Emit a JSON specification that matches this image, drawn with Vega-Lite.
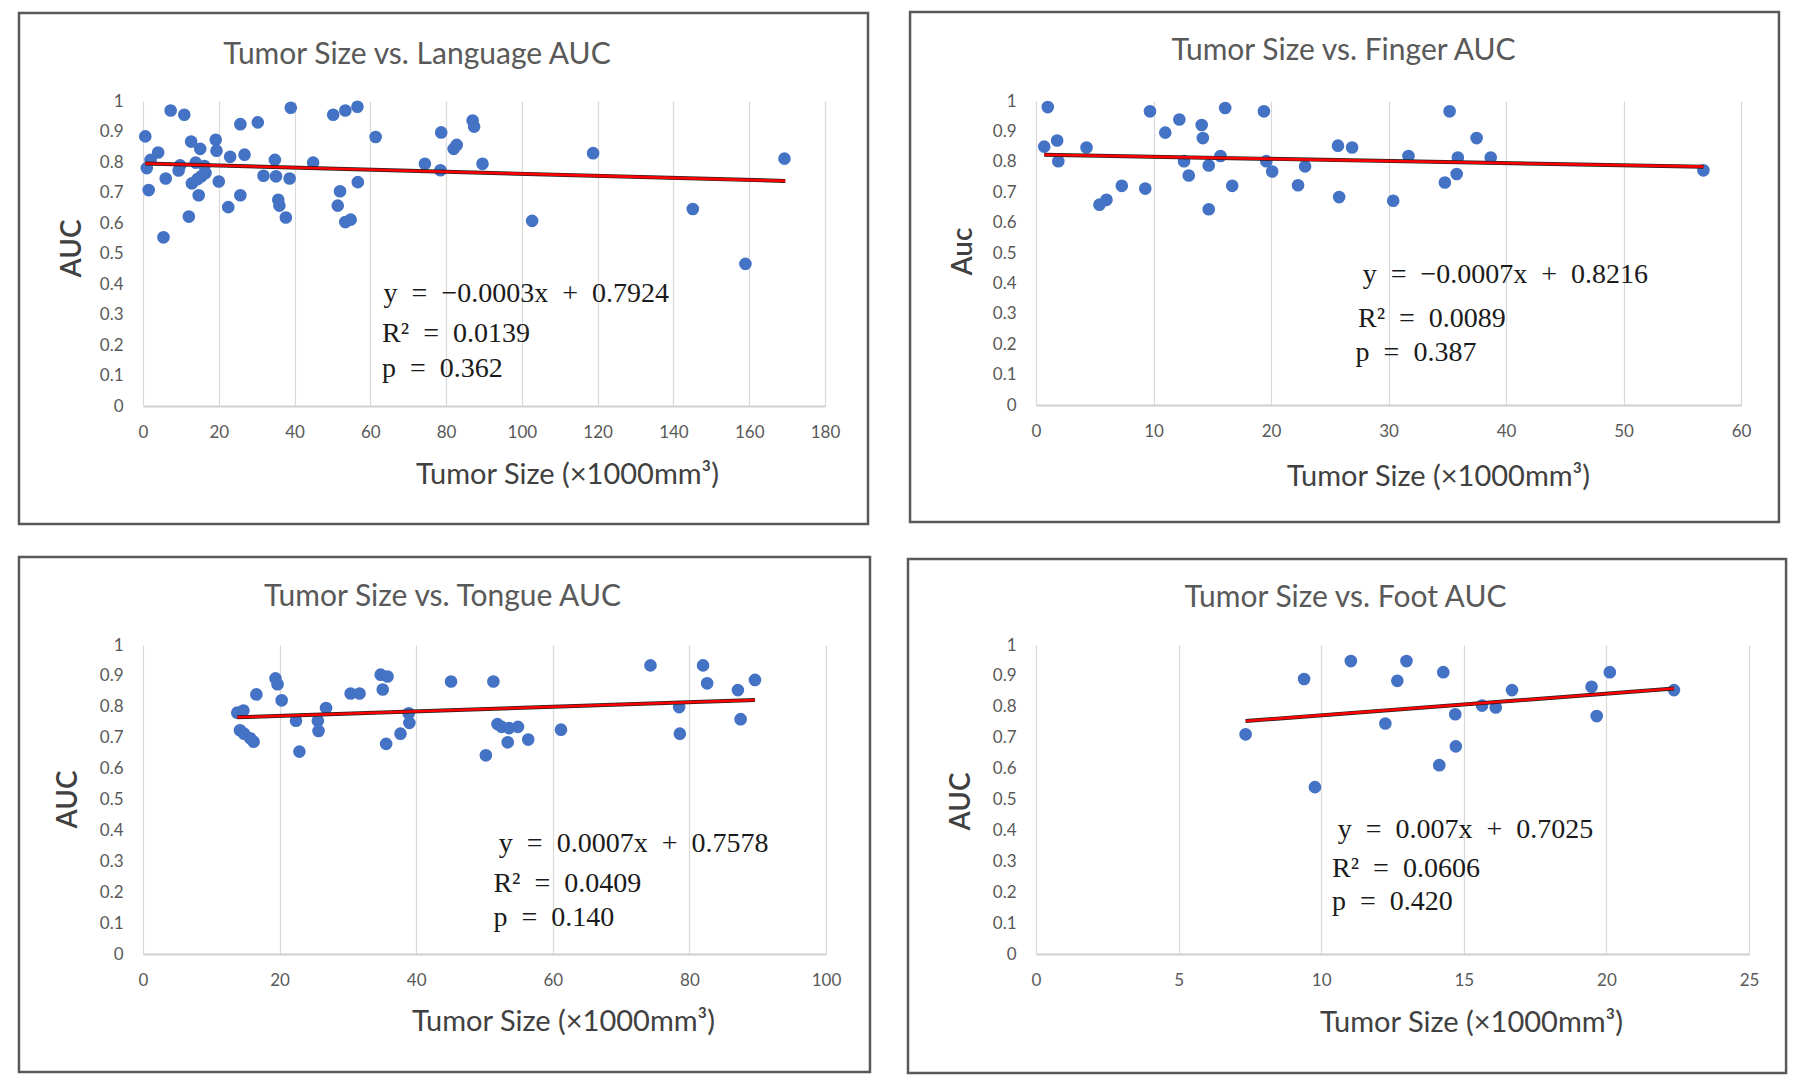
{
  "$schema": "https://vega.github.io/schema/vega-lite/v6.json",
  "background": "white",
  "padding": {"left": 17, "top": 10, "right": 5, "bottom": 0},
  "columns": 2,
  "bounds": "flush",
  "spacing": {"row": 239, "column": 210},
  "config": {
    "view": {"stroke": null},
    "font": "Lato",
    "axis": {"labelFont": "Lato", "labelFontSize": 17, "labelColor": "#595959", "ticks": false, "titleFont": "Lato", "titleColor": "#404040", "labelFlush": false, "labelOverlap": false},
    "axisX": {"grid": true, "gridColor": "#d9d9d9", "gridWidth": 1.2, "domainColor": "#cfcfcf", "domainWidth": 2, "labelPadding": 18, "titleFontSize": 29, "titleFontWeight": "normal", "titleAlign": "center", "titleBaseline": "middle"},
    "axisY": {"grid": false, "domain": false, "labelPadding": 20, "titleFontSize": 28, "titleFontWeight": 600, "titleAlign": "center", "titleBaseline": "middle"},
    "title": {"font": "Lato", "fontSize": 30, "fontWeight": "normal", "color": "#595959", "anchor": "middle", "frame": "group"}
  },
  "datasets": {
    "language": [
      {"x":0.6,"y":0.884},{"x":1,"y":0.78},{"x":1.5,"y":0.708},{"x":2,"y":0.807},{"x":4,"y":0.831},{"x":5.4,"y":0.553},{"x":6,"y":0.746},{"x":7.3,"y":0.969},{"x":9.4,"y":0.772},{"x":9.8,"y":0.789},{"x":10.9,"y":0.955},{"x":12.1,"y":0.621},{"x":12.7,"y":0.867},{"x":12.9,"y":0.73},{"x":13.9,"y":0.798},{"x":14.4,"y":0.744},{"x":14.7,"y":0.691},{"x":15.1,"y":0.843},{"x":15.4,"y":0.753},{"x":16.2,"y":0.787},{"x":16.5,"y":0.764},{"x":19.2,"y":0.873},{"x":19.4,"y":0.837},{"x":20,"y":0.736},{"x":22.5,"y":0.652},{"x":23,"y":0.817},{"x":25.7,"y":0.924},{"x":25.7,"y":0.691},{"x":26.8,"y":0.824},{"x":30.3,"y":0.93},{"x":31.8,"y":0.755},{"x":34.8,"y":0.807},{"x":35.1,"y":0.753},{"x":35.7,"y":0.676},{"x":36,"y":0.657},{"x":37.7,"y":0.618},{"x":38.7,"y":0.746},{"x":39,"y":0.978},{"x":44.9,"y":0.798},{"x":50.2,"y":0.955},{"x":51.4,"y":0.657},{"x":52,"y":0.704},{"x":53.4,"y":0.969},{"x":53.4,"y":0.603},{"x":54.8,"y":0.611},{"x":56.6,"y":0.981},{"x":56.7,"y":0.734},{"x":61.4,"y":0.882},{"x":74.4,"y":0.794},{"x":78.5,"y":0.773},{"x":78.7,"y":0.897},{"x":82,"y":0.843},{"x":82.8,"y":0.856},{"x":87,"y":0.936},{"x":87.4,"y":0.916},{"x":89.6,"y":0.794},{"x":102.7,"y":0.607},{"x":118.8,"y":0.829},{"x":145.1,"y":0.646},{"x":159,"y":0.466},{"x":169.3,"y":0.811}
    ],
    "language_fit": [{"x":0.6,"y":0.795},{"x":169.5,"y":0.738}],
    "finger": [
      {"x":0.7,"y":0.85},{"x":1.0,"y":0.98},{"x":1.8,"y":0.87},{"x":1.9,"y":0.802},{"x":4.3,"y":0.847},{"x":5.4,"y":0.659},{"x":6.0,"y":0.675},{"x":7.3,"y":0.721},{"x":9.3,"y":0.712},{"x":9.7,"y":0.966},{"x":11.0,"y":0.896},{"x":12.2,"y":0.939},{"x":12.6,"y":0.802},{"x":13.0,"y":0.755},{"x":14.1,"y":0.921},{"x":14.2,"y":0.878},{"x":14.7,"y":0.788},{"x":14.7,"y":0.644},{"x":15.7,"y":0.819},{"x":16.1,"y":0.977},{"x":16.7,"y":0.721},{"x":19.4,"y":0.966},{"x":19.6,"y":0.802},{"x":20.1,"y":0.768},{"x":22.3,"y":0.723},{"x":22.9,"y":0.785},{"x":25.7,"y":0.853},{"x":25.8,"y":0.684},{"x":26.9,"y":0.847},{"x":30.4,"y":0.672},{"x":31.7,"y":0.819},{"x":34.8,"y":0.732},{"x":35.2,"y":0.966},{"x":35.8,"y":0.76},{"x":35.9,"y":0.814},{"x":37.5,"y":0.878},{"x":38.7,"y":0.814},{"x":56.8,"y":0.772}
    ],
    "finger_fit": [{"x":0.7,"y":0.823},{"x":56.8,"y":0.784}],
    "tongue": [
      {"x":13.8,"y":0.781},{"x":14.2,"y":0.724},{"x":14.7,"y":0.788},{"x":14.8,"y":0.713},{"x":15.7,"y":0.698},{"x":16.2,"y":0.687},{"x":16.6,"y":0.84},{"x":19.4,"y":0.892},{"x":19.7,"y":0.873},{"x":20.3,"y":0.821},{"x":22.4,"y":0.755},{"x":22.9,"y":0.655},{"x":25.6,"y":0.755},{"x":25.7,"y":0.722},{"x":26.8,"y":0.796},{"x":30.4,"y":0.843},{"x":31.7,"y":0.843},{"x":34.8,"y":0.904},{"x":35.1,"y":0.856},{"x":35.8,"y":0.898},{"x":35.6,"y":0.68},{"x":37.7,"y":0.713},{"x":38.9,"y":0.779},{"x":39.0,"y":0.748},{"x":45.1,"y":0.882},{"x":50.2,"y":0.643},{"x":51.3,"y":0.882},{"x":51.9,"y":0.744},{"x":52.5,"y":0.735},{"x":53.4,"y":0.685},{"x":53.6,"y":0.731},{"x":54.9,"y":0.735},{"x":56.4,"y":0.694},{"x":61.2,"y":0.726},{"x":74.3,"y":0.934},{"x":78.5,"y":0.799},{"x":78.6,"y":0.713},{"x":82.0,"y":0.934},{"x":82.6,"y":0.876},{"x":87.1,"y":0.854},{"x":87.5,"y":0.76},{"x":89.6,"y":0.887}
    ],
    "tongue_fit": [{"x":13.8,"y":0.766},{"x":89.6,"y":0.822}],
    "foot": [
      {"x":7.35,"y":0.711},{"x":9.4,"y":0.89},{"x":9.78,"y":0.54},{"x":11.04,"y":0.948},{"x":12.25,"y":0.746},{"x":12.67,"y":0.884},{"x":12.99,"y":0.948},{"x":14.14,"y":0.611},{"x":14.28,"y":0.912},{"x":14.7,"y":0.776},{"x":14.72,"y":0.672},{"x":15.64,"y":0.804},{"x":16.12,"y":0.798},{"x":16.69,"y":0.854},{"x":19.48,"y":0.865},{"x":19.66,"y":0.77},{"x":20.12,"y":0.912},{"x":22.37,"y":0.854}
    ],
    "foot_fit": [{"x":7.35,"y":0.754},{"x":22.37,"y":0.859}]
  },
  "concat": [
    {
      "width": 682, "height": 305,
      "title": {"text": "Tumor Size vs. Language AUC", "dx": -67, "offset": -58},
      "layer": [
        {"data": {"values": [{}]}, "mark": {"type": "rect", "filled": false, "color": "#595959", "strokeWidth": 2.5},
         "encoding": {"x": {"datum": -32.73, "type": "quantitative", "scale": {"domain": [0,180], "nice": false}, "axis": {"values": [0,20,40,60,80,100,120,140,160,180], "title": "Tumor Size (×1000mm³)", "titleX": 424, "titleY": 68}}, "x2": {"datum": 191.35},
                      "y": {"datum": 1.2885, "type": "quantitative", "scale": {"domain": [0,1], "nice": false}, "axis": {"values": [0,0.1,0.2,0.3,0.4,0.5,0.6,0.7,0.8,0.9,1], "format": "~g", "title": "AUC", "titleX": -71, "titleY": 147}}, "y2": {"datum": -0.3869}}},
        {"data": {"name": "language"}, "mark": {"type": "circle", "size": 160, "color": "#4472C4", "opacity": 1},
         "encoding": {"x": {"field": "x", "type": "quantitative", "scale": {"domain": [0,180], "nice": false}, "axis": {"values": [0,20,40,60,80,100,120,140,160,180], "title": "Tumor Size (×1000mm³)", "titleX": 424, "titleY": 68}},
                      "y": {"field": "y", "type": "quantitative", "scale": {"domain": [0,1], "nice": false}, "axis": {"values": [0,0.1,0.2,0.3,0.4,0.5,0.6,0.7,0.8,0.9,1], "format": "~g", "title": "AUC", "titleX": -71, "titleY": 147}}}},
        {"data": {"name": "language_fit"}, "mark": {"type": "line", "color": "#222222", "strokeWidth": 4},
         "encoding": {"x": {"field": "x", "type": "quantitative", "scale": {"domain": [0,180], "nice": false}, "axis": {"values": [0,20,40,60,80,100,120,140,160,180], "title": "Tumor Size (×1000mm³)", "titleX": 424, "titleY": 68}}, "y": {"field": "y", "type": "quantitative", "scale": {"domain": [0,1], "nice": false}, "axis": {"values": [0,0.1,0.2,0.3,0.4,0.5,0.6,0.7,0.8,0.9,1], "format": "~g", "title": "AUC", "titleX": -71, "titleY": 147}}}},
        {"data": {"name": "language_fit"}, "mark": {"type": "line", "color": "#ff0000", "strokeWidth": 2.6},
         "encoding": {"x": {"field": "x", "type": "quantitative", "scale": {"domain": [0,180], "nice": false}, "axis": {"values": [0,20,40,60,80,100,120,140,160,180], "title": "Tumor Size (×1000mm³)", "titleX": 424, "titleY": 68}}, "y": {"field": "y", "type": "quantitative", "scale": {"domain": [0,1], "nice": false}, "axis": {"values": [0,0.1,0.2,0.3,0.4,0.5,0.6,0.7,0.8,0.9,1], "format": "~g", "title": "AUC", "titleX": -71, "titleY": 147}}}},
        {"data": {"values": [{}]}, "mark": {"type": "text", "text": "y\u2002=\u2002−0.0003x\u2002+\u20020.7924", "align": "left", "baseline": "middle", "font": "Liberation Serif", "fontSize": 28, "color": "#1a1a1a"},
         "encoding": {"x": {"datum": 63.5, "type": "quantitative", "scale": {"domain": [0,180], "nice": false}, "axis": {"values": [0,20,40,60,80,100,120,140,160,180], "title": "Tumor Size (×1000mm³)", "titleX": 424, "titleY": 68}}, "y": {"datum": 0.367, "type": "quantitative", "scale": {"domain": [0,1], "nice": false}, "axis": {"values": [0,0.1,0.2,0.3,0.4,0.5,0.6,0.7,0.8,0.9,1], "format": "~g", "title": "AUC", "titleX": -71, "titleY": 147}}}},
        {"data": {"values": [{}]}, "mark": {"type": "text", "text": "R²\u2002=\u20020.0139", "align": "left", "baseline": "middle", "font": "Liberation Serif", "fontSize": 28, "color": "#1a1a1a"},
         "encoding": {"x": {"datum": 63.1, "type": "quantitative", "scale": {"domain": [0,180], "nice": false}, "axis": {"values": [0,20,40,60,80,100,120,140,160,180], "title": "Tumor Size (×1000mm³)", "titleX": 424, "titleY": 68}}, "y": {"datum": 0.236, "type": "quantitative", "scale": {"domain": [0,1], "nice": false}, "axis": {"values": [0,0.1,0.2,0.3,0.4,0.5,0.6,0.7,0.8,0.9,1], "format": "~g", "title": "AUC", "titleX": -71, "titleY": 147}}}},
        {"data": {"values": [{}]}, "mark": {"type": "text", "text": "p\u2002=\u20020.362", "align": "left", "baseline": "middle", "font": "Liberation Serif", "fontSize": 28, "color": "#1a1a1a"},
         "encoding": {"x": {"datum": 63.1, "type": "quantitative", "scale": {"domain": [0,180], "nice": false}, "axis": {"values": [0,20,40,60,80,100,120,140,160,180], "title": "Tumor Size (×1000mm³)", "titleX": 424, "titleY": 68}}, "y": {"datum": 0.12, "type": "quantitative", "scale": {"domain": [0,1], "nice": false}, "axis": {"values": [0,0.1,0.2,0.3,0.4,0.5,0.6,0.7,0.8,0.9,1], "format": "~g", "title": "AUC", "titleX": -71, "titleY": 147}}}}
      ]
    },
    {
      "width": 705, "height": 304,
      "title": {"text": "Tumor Size vs. Finger AUC", "dx": -45, "offset": -55},
      "layer": [
        {"data": {"values": [{}]}, "mark": {"type": "rect", "filled": false, "color": "#595959", "strokeWidth": 2.5},
         "encoding": {"x": {"datum": -10.72, "type": "quantitative", "scale": {"domain": [0,60], "nice": false}, "axis": {"values": [0,10,20,30,40,50,60], "title": "Tumor Size (×1000mm³)", "titleX": 402, "titleY": 71}}, "x2": {"datum": 63.23},
                      "y": {"datum": 1.2928, "type": "quantitative", "scale": {"domain": [0,1], "nice": false}, "axis": {"values": [0,0.1,0.2,0.3,0.4,0.5,0.6,0.7,0.8,0.9,1], "format": "~g", "title": "Auc", "titleX": -73, "titleY": 150}}, "y2": {"datum": -0.3849}}},
        {"data": {"name": "finger"}, "mark": {"type": "circle", "size": 160, "color": "#4472C4", "opacity": 1},
         "encoding": {"x": {"field": "x", "type": "quantitative", "scale": {"domain": [0,60], "nice": false}, "axis": {"values": [0,10,20,30,40,50,60], "title": "Tumor Size (×1000mm³)", "titleX": 402, "titleY": 71}},
                      "y": {"field": "y", "type": "quantitative", "scale": {"domain": [0,1], "nice": false}, "axis": {"values": [0,0.1,0.2,0.3,0.4,0.5,0.6,0.7,0.8,0.9,1], "format": "~g", "title": "Auc", "titleX": -73, "titleY": 150}}}},
        {"data": {"name": "finger_fit"}, "mark": {"type": "line", "color": "#222222", "strokeWidth": 4},
         "encoding": {"x": {"field": "x", "type": "quantitative", "scale": {"domain": [0,60], "nice": false}, "axis": {"values": [0,10,20,30,40,50,60], "title": "Tumor Size (×1000mm³)", "titleX": 402, "titleY": 71}}, "y": {"field": "y", "type": "quantitative", "scale": {"domain": [0,1], "nice": false}, "axis": {"values": [0,0.1,0.2,0.3,0.4,0.5,0.6,0.7,0.8,0.9,1], "format": "~g", "title": "Auc", "titleX": -73, "titleY": 150}}}},
        {"data": {"name": "finger_fit"}, "mark": {"type": "line", "color": "#ff0000", "strokeWidth": 2.6},
         "encoding": {"x": {"field": "x", "type": "quantitative", "scale": {"domain": [0,60], "nice": false}, "axis": {"values": [0,10,20,30,40,50,60], "title": "Tumor Size (×1000mm³)", "titleX": 402, "titleY": 71}}, "y": {"field": "y", "type": "quantitative", "scale": {"domain": [0,1], "nice": false}, "axis": {"values": [0,0.1,0.2,0.3,0.4,0.5,0.6,0.7,0.8,0.9,1], "format": "~g", "title": "Auc", "titleX": -73, "titleY": 150}}}},
        {"data": {"values": [{}]}, "mark": {"type": "text", "text": "y\u2002=\u2002−0.0007x\u2002+\u20020.8216", "align": "left", "baseline": "middle", "font": "Liberation Serif", "fontSize": 28, "color": "#1a1a1a"},
         "encoding": {"x": {"datum": 27.8, "type": "quantitative", "scale": {"domain": [0,60], "nice": false}, "axis": {"values": [0,10,20,30,40,50,60], "title": "Tumor Size (×1000mm³)", "titleX": 402, "titleY": 71}}, "y": {"datum": 0.426, "type": "quantitative", "scale": {"domain": [0,1], "nice": false}, "axis": {"values": [0,0.1,0.2,0.3,0.4,0.5,0.6,0.7,0.8,0.9,1], "format": "~g", "title": "Auc", "titleX": -73, "titleY": 150}}}},
        {"data": {"values": [{}]}, "mark": {"type": "text", "text": "R²\u2002=\u20020.0089", "align": "left", "baseline": "middle", "font": "Liberation Serif", "fontSize": 28, "color": "#1a1a1a"},
         "encoding": {"x": {"datum": 27.4, "type": "quantitative", "scale": {"domain": [0,60], "nice": false}, "axis": {"values": [0,10,20,30,40,50,60], "title": "Tumor Size (×1000mm³)", "titleX": 402, "titleY": 71}}, "y": {"datum": 0.282, "type": "quantitative", "scale": {"domain": [0,1], "nice": false}, "axis": {"values": [0,0.1,0.2,0.3,0.4,0.5,0.6,0.7,0.8,0.9,1], "format": "~g", "title": "Auc", "titleX": -73, "titleY": 150}}}},
        {"data": {"values": [{}]}, "mark": {"type": "text", "text": "p\u2002=\u20020.387", "align": "left", "baseline": "middle", "font": "Liberation Serif", "fontSize": 28, "color": "#1a1a1a"},
         "encoding": {"x": {"datum": 27.2, "type": "quantitative", "scale": {"domain": [0,60], "nice": false}, "axis": {"values": [0,10,20,30,40,50,60], "title": "Tumor Size (×1000mm³)", "titleX": 402, "titleY": 71}}, "y": {"datum": 0.171, "type": "quantitative", "scale": {"domain": [0,1], "nice": false}, "axis": {"values": [0,0.1,0.2,0.3,0.4,0.5,0.6,0.7,0.8,0.9,1], "format": "~g", "title": "Auc", "titleX": -73, "titleY": 150}}}}
      ]
    },
    {
      "width": 683, "height": 309,
      "title": {"text": "Tumor Size vs. Tongue AUC", "dx": -42, "offset": -56},
      "layer": [
        {"data": {"values": [{}]}, "mark": {"type": "rect", "filled": false, "color": "#595959", "strokeWidth": 2.5},
         "encoding": {"x": {"datum": -18.16, "type": "quantitative", "scale": {"domain": [0,100], "nice": false}, "axis": {"values": [0,20,40,60,80,100], "title": "Tumor Size (×1000mm³)", "titleX": 420, "titleY": 67}}, "x2": {"datum": 106.44},
                      "y": {"datum": 1.2848, "type": "quantitative", "scale": {"domain": [0,1], "nice": false}, "axis": {"values": [0,0.1,0.2,0.3,0.4,0.5,0.6,0.7,0.8,0.9,1], "format": "~g", "title": "AUC", "titleX": -75, "titleY": 154}}, "y2": {"datum": -0.3819}}},
        {"data": {"name": "tongue"}, "mark": {"type": "circle", "size": 160, "color": "#4472C4", "opacity": 1},
         "encoding": {"x": {"field": "x", "type": "quantitative", "scale": {"domain": [0,100], "nice": false}, "axis": {"values": [0,20,40,60,80,100], "title": "Tumor Size (×1000mm³)", "titleX": 420, "titleY": 67}},
                      "y": {"field": "y", "type": "quantitative", "scale": {"domain": [0,1], "nice": false}, "axis": {"values": [0,0.1,0.2,0.3,0.4,0.5,0.6,0.7,0.8,0.9,1], "format": "~g", "title": "AUC", "titleX": -75, "titleY": 154}}}},
        {"data": {"name": "tongue_fit"}, "mark": {"type": "line", "color": "#222222", "strokeWidth": 4},
         "encoding": {"x": {"field": "x", "type": "quantitative", "scale": {"domain": [0,100], "nice": false}, "axis": {"values": [0,20,40,60,80,100], "title": "Tumor Size (×1000mm³)", "titleX": 420, "titleY": 67}}, "y": {"field": "y", "type": "quantitative", "scale": {"domain": [0,1], "nice": false}, "axis": {"values": [0,0.1,0.2,0.3,0.4,0.5,0.6,0.7,0.8,0.9,1], "format": "~g", "title": "AUC", "titleX": -75, "titleY": 154}}}},
        {"data": {"name": "tongue_fit"}, "mark": {"type": "line", "color": "#ff0000", "strokeWidth": 2.6},
         "encoding": {"x": {"field": "x", "type": "quantitative", "scale": {"domain": [0,100], "nice": false}, "axis": {"values": [0,20,40,60,80,100], "title": "Tumor Size (×1000mm³)", "titleX": 420, "titleY": 67}}, "y": {"field": "y", "type": "quantitative", "scale": {"domain": [0,1], "nice": false}, "axis": {"values": [0,0.1,0.2,0.3,0.4,0.5,0.6,0.7,0.8,0.9,1], "format": "~g", "title": "AUC", "titleX": -75, "titleY": 154}}}},
        {"data": {"values": [{}]}, "mark": {"type": "text", "text": "y\u2002=\u20020.0007x\u2002+\u20020.7578", "align": "left", "baseline": "middle", "font": "Liberation Serif", "fontSize": 28, "color": "#1a1a1a"},
         "encoding": {"x": {"datum": 52.1, "type": "quantitative", "scale": {"domain": [0,100], "nice": false}, "axis": {"values": [0,20,40,60,80,100], "title": "Tumor Size (×1000mm³)", "titleX": 420, "titleY": 67}}, "y": {"datum": 0.356, "type": "quantitative", "scale": {"domain": [0,1], "nice": false}, "axis": {"values": [0,0.1,0.2,0.3,0.4,0.5,0.6,0.7,0.8,0.9,1], "format": "~g", "title": "AUC", "titleX": -75, "titleY": 154}}}},
        {"data": {"values": [{}]}, "mark": {"type": "text", "text": "R²\u2002=\u20020.0409", "align": "left", "baseline": "middle", "font": "Liberation Serif", "fontSize": 28, "color": "#1a1a1a"},
         "encoding": {"x": {"datum": 51.3, "type": "quantitative", "scale": {"domain": [0,100], "nice": false}, "axis": {"values": [0,20,40,60,80,100], "title": "Tumor Size (×1000mm³)", "titleX": 420, "titleY": 67}}, "y": {"datum": 0.227, "type": "quantitative", "scale": {"domain": [0,1], "nice": false}, "axis": {"values": [0,0.1,0.2,0.3,0.4,0.5,0.6,0.7,0.8,0.9,1], "format": "~g", "title": "AUC", "titleX": -75, "titleY": 154}}}},
        {"data": {"values": [{}]}, "mark": {"type": "text", "text": "p\u2002=\u20020.140", "align": "left", "baseline": "middle", "font": "Liberation Serif", "fontSize": 28, "color": "#1a1a1a"},
         "encoding": {"x": {"datum": 51.3, "type": "quantitative", "scale": {"domain": [0,100], "nice": false}, "axis": {"values": [0,20,40,60,80,100], "title": "Tumor Size (×1000mm³)", "titleX": 420, "titleY": 67}}, "y": {"datum": 0.118, "type": "quantitative", "scale": {"domain": [0,1], "nice": false}, "axis": {"values": [0,0.1,0.2,0.3,0.4,0.5,0.6,0.7,0.8,0.9,1], "format": "~g", "title": "AUC", "titleX": -75, "titleY": 154}}}}
      ]
    },
    {
      "width": 713, "height": 309,
      "title": {"text": "Tumor Size vs. Foot AUC", "dx": -47, "offset": -55},
      "layer": [
        {"data": {"values": [{}]}, "mark": {"type": "rect", "filled": false, "color": "#595959", "strokeWidth": 2.5},
         "encoding": {"x": {"datum": -4.488, "type": "quantitative", "scale": {"domain": [0,25], "nice": false}, "axis": {"values": [0,5,10,15,20,25], "title": "Tumor Size (×1000mm³)", "titleX": 435, "titleY": 68}}, "x2": {"datum": 26.3},
                      "y": {"datum": 1.2783, "type": "quantitative", "scale": {"domain": [0,1], "nice": false}, "axis": {"values": [0,0.1,0.2,0.3,0.4,0.5,0.6,0.7,0.8,0.9,1], "format": "~g", "title": "AUC", "titleX": -75, "titleY": 156}}, "y2": {"datum": -0.3851}}},
        {"data": {"name": "foot"}, "mark": {"type": "circle", "size": 160, "color": "#4472C4", "opacity": 1},
         "encoding": {"x": {"field": "x", "type": "quantitative", "scale": {"domain": [0,25], "nice": false}, "axis": {"values": [0,5,10,15,20,25], "title": "Tumor Size (×1000mm³)", "titleX": 435, "titleY": 68}},
                      "y": {"field": "y", "type": "quantitative", "scale": {"domain": [0,1], "nice": false}, "axis": {"values": [0,0.1,0.2,0.3,0.4,0.5,0.6,0.7,0.8,0.9,1], "format": "~g", "title": "AUC", "titleX": -75, "titleY": 156}}}},
        {"data": {"name": "foot_fit"}, "mark": {"type": "line", "color": "#222222", "strokeWidth": 4},
         "encoding": {"x": {"field": "x", "type": "quantitative", "scale": {"domain": [0,25], "nice": false}, "axis": {"values": [0,5,10,15,20,25], "title": "Tumor Size (×1000mm³)", "titleX": 435, "titleY": 68}}, "y": {"field": "y", "type": "quantitative", "scale": {"domain": [0,1], "nice": false}, "axis": {"values": [0,0.1,0.2,0.3,0.4,0.5,0.6,0.7,0.8,0.9,1], "format": "~g", "title": "AUC", "titleX": -75, "titleY": 156}}}},
        {"data": {"name": "foot_fit"}, "mark": {"type": "line", "color": "#ff0000", "strokeWidth": 2.6},
         "encoding": {"x": {"field": "x", "type": "quantitative", "scale": {"domain": [0,25], "nice": false}, "axis": {"values": [0,5,10,15,20,25], "title": "Tumor Size (×1000mm³)", "titleX": 435, "titleY": 68}}, "y": {"field": "y", "type": "quantitative", "scale": {"domain": [0,1], "nice": false}, "axis": {"values": [0,0.1,0.2,0.3,0.4,0.5,0.6,0.7,0.8,0.9,1], "format": "~g", "title": "AUC", "titleX": -75, "titleY": 156}}}},
        {"data": {"values": [{}]}, "mark": {"type": "text", "text": "y\u2002=\u20020.007x\u2002+\u20020.7025", "align": "left", "baseline": "middle", "font": "Liberation Serif", "fontSize": 28, "color": "#1a1a1a"},
         "encoding": {"x": {"datum": 10.58, "type": "quantitative", "scale": {"domain": [0,25], "nice": false}, "axis": {"values": [0,5,10,15,20,25], "title": "Tumor Size (×1000mm³)", "titleX": 435, "titleY": 68}}, "y": {"datum": 0.4, "type": "quantitative", "scale": {"domain": [0,1], "nice": false}, "axis": {"values": [0,0.1,0.2,0.3,0.4,0.5,0.6,0.7,0.8,0.9,1], "format": "~g", "title": "AUC", "titleX": -75, "titleY": 156}}}},
        {"data": {"values": [{}]}, "mark": {"type": "text", "text": "R²\u2002=\u20020.0606", "align": "left", "baseline": "middle", "font": "Liberation Serif", "fontSize": 28, "color": "#1a1a1a"},
         "encoding": {"x": {"datum": 10.38, "type": "quantitative", "scale": {"domain": [0,25], "nice": false}, "axis": {"values": [0,5,10,15,20,25], "title": "Tumor Size (×1000mm³)", "titleX": 435, "titleY": 68}}, "y": {"datum": 0.276, "type": "quantitative", "scale": {"domain": [0,1], "nice": false}, "axis": {"values": [0,0.1,0.2,0.3,0.4,0.5,0.6,0.7,0.8,0.9,1], "format": "~g", "title": "AUC", "titleX": -75, "titleY": 156}}}},
        {"data": {"values": [{}]}, "mark": {"type": "text", "text": "p\u2002=\u20020.420", "align": "left", "baseline": "middle", "font": "Liberation Serif", "fontSize": 28, "color": "#1a1a1a"},
         "encoding": {"x": {"datum": 10.38, "type": "quantitative", "scale": {"domain": [0,25], "nice": false}, "axis": {"values": [0,5,10,15,20,25], "title": "Tumor Size (×1000mm³)", "titleX": 435, "titleY": 68}}, "y": {"datum": 0.168, "type": "quantitative", "scale": {"domain": [0,1], "nice": false}, "axis": {"values": [0,0.1,0.2,0.3,0.4,0.5,0.6,0.7,0.8,0.9,1], "format": "~g", "title": "AUC", "titleX": -75, "titleY": 156}}}}
      ]
    }
  ]
}
